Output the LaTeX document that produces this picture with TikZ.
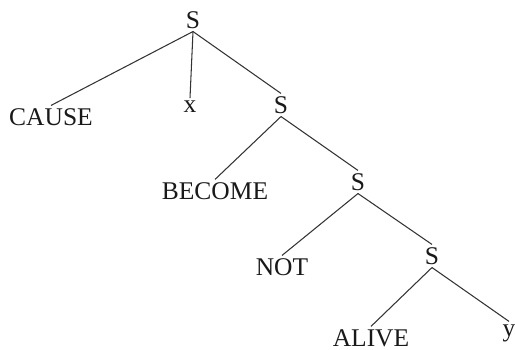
\documentclass[tikz,border=0pt]{standalone}
\usepackage{fontspec}
\setmainfont{Liberation Serif}
\usepackage{tikz}
\usetikzlibrary{positioning}

\begin{document}
\begin{tikzpicture}[
  x=0.02cm, y=-0.02cm,
  cat/.style={inner sep=1.5pt, font=\fontsize{14.5}{17}\selectfont, text=black!90},
  leaf/.style={inner sep=1.5pt, font=\fontsize{14.5}{17}\selectfont, text=black!90},
  edge/.style={line width=0.6pt, draw=black!80}
]
\useasboundingbox (0,0) rectangle (515,350);
\node[cat] (s1) at (193,20) {S};
\node[leaf] (cause) at (51,117) {CAUSE};
\node[leaf] (x) at (190,107) {x};
\node[cat] (s2) at (281,105) {S};
\node[leaf] (become) at (215,191) {BECOME};
\node[cat] (s3) at (358,182) {S};
\node[leaf] (not) at (282,267) {NOT};
\node[cat] (s4) at (432,256) {S};
\node[leaf] (alive) at (371,338) {ALIVE};
\node[leaf] (y) at (509,333) {y};
\foreach \a/\b in {s1/cause,s1/x,s1/s2,s2/become,s2/s3,s3/not,s3/s4,s4/alive,s4/y} \draw[edge] (\a.south)--(\b.north);
\end{tikzpicture}
\end{document}
